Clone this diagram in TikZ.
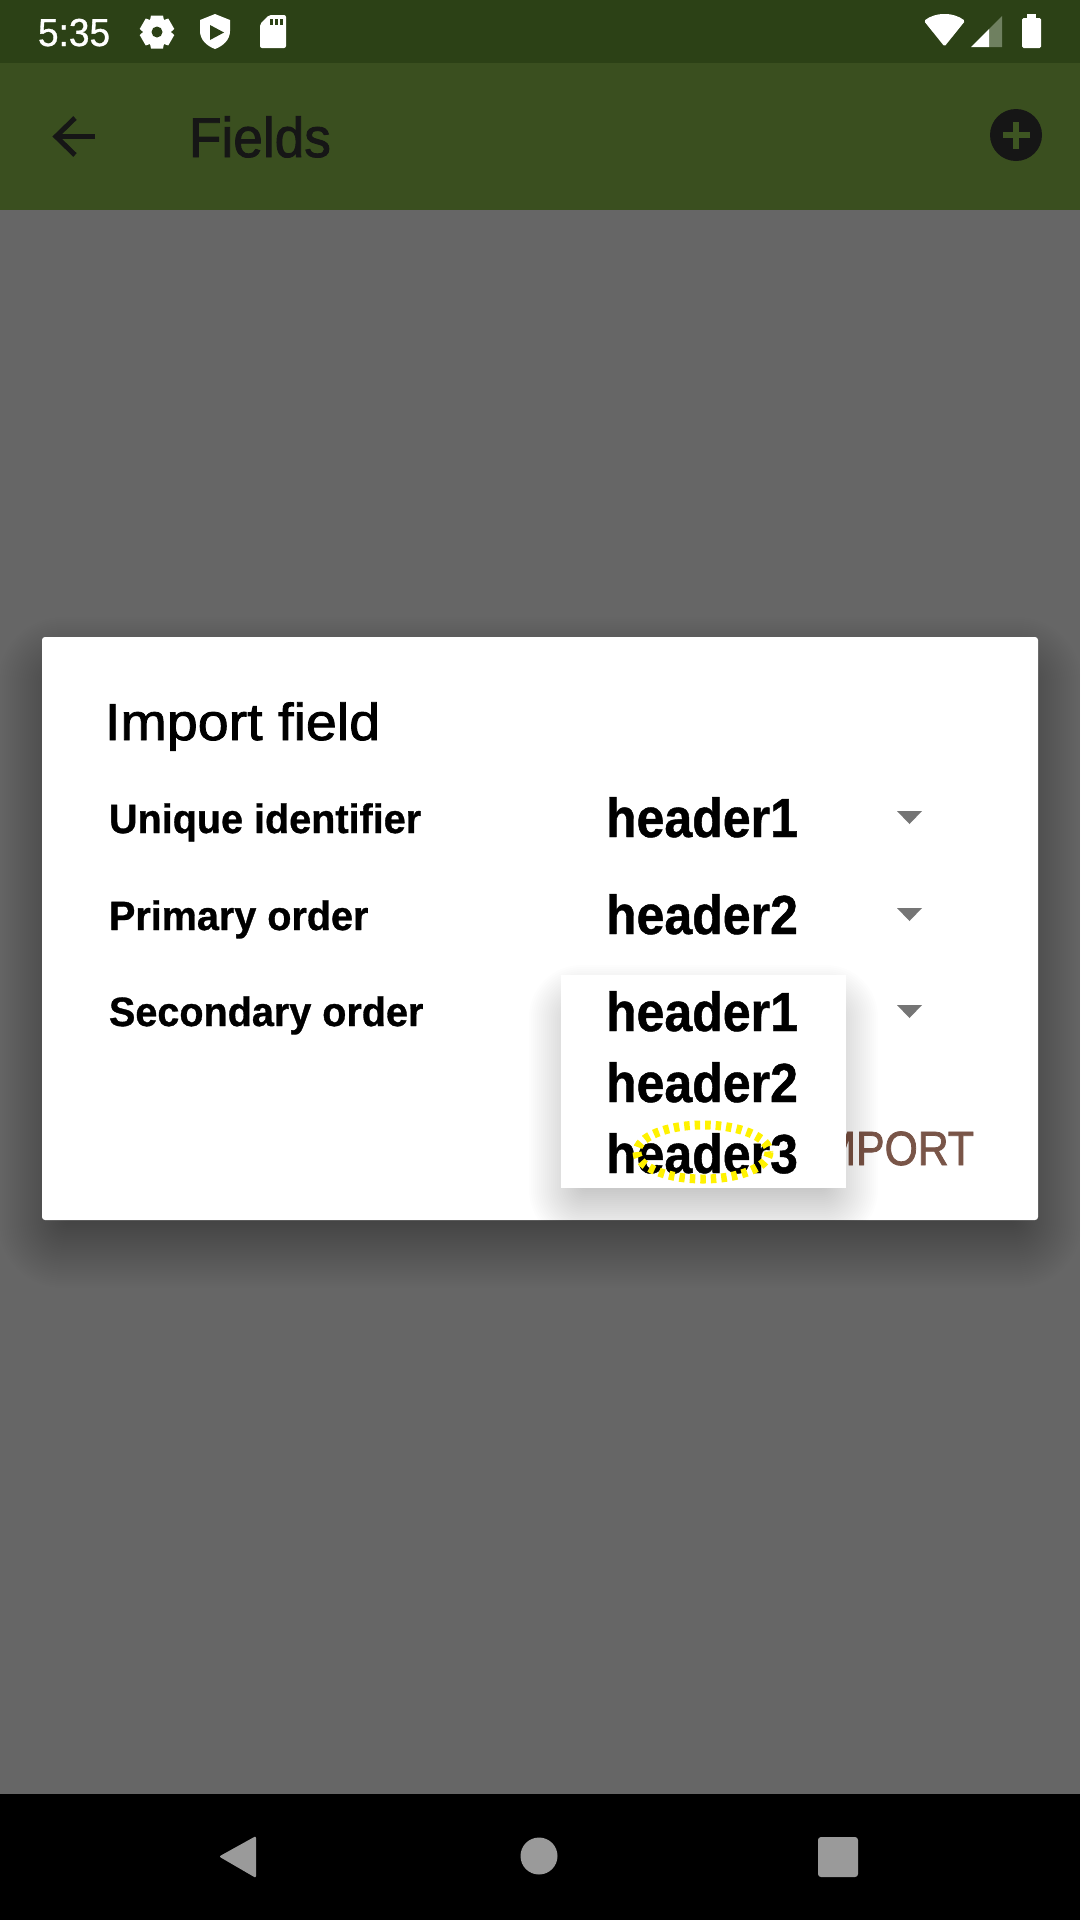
\documentclass[tikz,border=0pt]{standalone}
\usepackage{fontspec}
\setmainfont{Liberation Sans}
\newfontfamily\fStatus[FakeStretch=0.95,FakeBold=0.8]{Liberation Sans}
\newfontfamily\fTitle[FakeStretch=0.95,FakeBold=1.6]{Liberation Sans}
\newfontfamily\fDialog[FakeStretch=1.07,FakeBold=1.6]{Liberation Sans}
\newfontfamily\fLabel[FakeStretch=0.965,FakeBold=0.8]{Liberation Sans Bold}
\newfontfamily\fHead[FakeStretch=0.91,FakeBold=0.8]{Liberation Sans Bold}
\newfontfamily\fBtn[FakeStretch=0.89,FakeBold=1.6]{Liberation Sans}
\newcommand{\sz}[1]{\fontsize{#1}{#1}\selectfont}
\definecolor{statusc}{HTML}{2C4116}
\definecolor{appc}{HTML}{3A4F1F}
\definecolor{plusc}{HTML}{3E5522}
\definecolor{inkc}{HTML}{161616}
\definecolor{bgc}{HTML}{666666}
\definecolor{navc}{HTML}{9A9A9A}
\definecolor{arrc}{HTML}{757575}
\definecolor{btnc}{HTML}{795548}
\definecolor{sigc}{HTML}{6F8060}
\tikzset{
  txt/.style={inner sep=0pt,outer sep=0pt,anchor=base west},
  headtxt/.style={txt,font=\fHead\sz{55},text=black},
  labeltxt/.style={txt,font=\fLabel\sz{41},text=black},
  caret/.style={fill=arrc},
}
\begin{document}
\begin{tikzpicture}[x=1pt,y=-1pt,line join=miter]
\useasboundingbox (0,0) rectangle (1080,1920);
% backgrounds
\fill[bgc] (0,0) rectangle (1080,1920);
\fill[statusc] (0,0) rectangle (1080,63);
\fill[appc] (0,63) rectangle (1080,210);
\fill[black] (0,1794) rectangle (1080,1920);
% status bar
\node[txt,font=\fStatus\sz{39},text=white] (clock) at (38,46) {5:35};
% gear
\foreach \a in {0,60,...,300}{
  \fill[white,rotate around={\a:(157,32)}] (151,15.5) -- (163,15.5) -- (165,25) -- (149,25) -- cycle;
}
\fill[white] (157,32) circle (12);
\fill[statusc] (157,32) circle (5.5);
% shield
\fill[white] (215,14) -- (230,20) -- (230,31) .. controls (230,40) and (223,46) .. (215,49) .. controls (207,46) and (200,40) .. (200,31) -- (200,20) -- cycle;
\fill[statusc] (210,25) -- (224,32.5) -- (210,40) -- cycle;
% sd card
\fill[white,rounded corners=2pt] (269,15) -- (286,15) -- (286,48) -- (260,48) -- (260,24) -- cycle;
\fill[statusc] (269.5,18.5) rectangle (272.5,25);
\fill[statusc] (274.5,18.5) rectangle (277.5,25);
\fill[statusc] (279.5,18.5) rectangle (282.5,25);
% wifi
\fill[white,rounded corners=1.5pt] (944.5,46.5) -- (924,21) .. controls (930,16) and (938,14) .. (944.5,14) .. controls (951,14) and (959,16) .. (965,21) -- cycle;
% signal
\fill[sigc] (989,47) -- (1002,47) -- (1002,16) -- (989,29) -- cycle;
\fill[white] (971,47) -- (989,47) -- (989,29) -- cycle;
% battery
\fill[white,rounded corners=1.5pt] (1022,18) rectangle (1041,48);
\fill[white] (1027,14) rectangle (1036,19);
% app bar
\draw[inkc,line width=5pt] (95,136) -- (56,136);
\draw[inkc,line width=5pt] (75,118) -- (56,136.5) -- (75,155);
\node[txt,font=\fTitle\sz{56},text=inkc] (fields) at (189,157) {Fields};
\fill[inkc] (1016,135) circle (26);
\fill[plusc] (1002.5,132.3) rectangle (1029.5,137.7);
\fill[plusc] (1013.3,122) rectangle (1018.7,149);
% dialog shadow
\foreach \e in {-24,-22,...,44}{
  \fill[black,opacity=0.0052,rounded corners={(\e+28)*0.9pt}]
    (42-\e,637+24-\e) rectangle (1038+\e,1220+24+\e);
}
% dialog
\fill[white,rounded corners=3pt] (42,637) rectangle (1038,1220);
\node[txt,font=\fDialog\sz{52},text=black] (title) at (105,740) {Import field};
\node[labeltxt] (lab1) at (109,833) {Unique identifier};
\node[labeltxt] (lab2) at (109,930) {Primary order};
\node[labeltxt] (lab3) at (109,1026) {Secondary order};
\node[headtxt] (val1) at (606,837) {header1};
\node[headtxt] (val2) at (606,934) {header2};
\fill[caret] (897,811) -- (922,811) -- (909.5,824) -- cycle;
\fill[caret] (897,908) -- (922,908) -- (909.5,921) -- cycle;
\fill[caret] (897,1005) -- (922,1005) -- (909.5,1018) -- cycle;
\node[inner sep=0pt,outer sep=0pt,anchor=base east,font=\fBtn\sz{48},text=btnc] (import) at (974,1165) {IMPORT};
% popup shadow
\begin{scope}
\clip (42,637) rectangle (1038,1220);
\foreach \e in {-22,-20,...,32}{
  \fill[black,opacity=0.0068,rounded corners={(\e+26)*0.9pt}]
    (561-\e,975+22-\e) rectangle (846+\e,1188+22+\e);
}
\end{scope}
% popup
\fill[white] (561,975) rectangle (846,1188);
\node[headtxt] (opt1) at (606,1031) {header1};
\node[headtxt] (opt2) at (606,1102) {header2};
\node[headtxt] (opt3) at (606,1173) {header3};
% highlight
\draw[yellow,line width=9pt,dash pattern=on 5.5pt off 5pt] (703,1152) ellipse (66 and 27);
% nav bar
\fill[navc,rounded corners=2pt] (256,1836) -- (256,1878) -- (219,1856.5) -- cycle;
\fill[navc] (539,1856) circle (18.5);
\fill[navc,rounded corners=3pt] (818,1837) rectangle (858,1877);
\end{tikzpicture}
\end{document}
